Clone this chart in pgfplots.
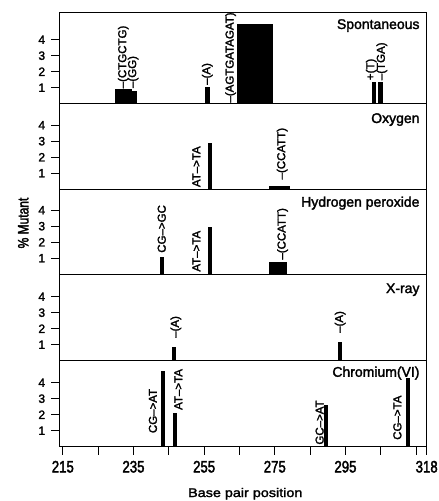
\documentclass[border=0pt]{standalone}
\usepackage{pgfplots}
\pgfplotsset{compat=1.18}
\usepackage{fontspec}
\setmainfont{Liberation Sans}[FakeBold=2]
\newfontfamily\reg{Liberation Sans}[FakeBold=2]
\newfontfamily\cond{Liberation Sans}[FakeStretch=0.8,FakeBold=2.2]
\newfontfamily\wide{Liberation Sans}[FakeStretch=1.15,FakeBold=2]

\pgfplotsset{
  panel/.style={
    scale only axis, width=367.4pt, xmin=214, xmax=318, ymin=0,
    clip=false,
    axis line style={line width=1pt},
    ytick={1,2,3,4},
    /pgf/number format/assume math mode=true,
    yticklabel style={font=\reg\fontsize{12}{12}\selectfont, inner sep=0pt, xshift=-6pt},
    tick style={line width=0.7pt, black},
    major tick length=8pt, tick align=outside,
    ytick pos=left,
    xtick=\empty,
  },
}
\tikzset{
  bar/.style={fill=black, draw=none},
  lab/.style={rotate=90, anchor=west, inner sep=0pt, font=\reg\fontsize{11.5}{11.5}\selectfont},
  ttl/.style={anchor=north east, inner sep=0pt, font=\reg\fontsize{14}{14}\selectfont},
}

\begin{document}
\begin{tikzpicture}
% ---------------- Spontaneous ----------------
\begin{axis}[panel, name=p1, height=91pt, ymax=5.6875, at={(0,0)}, anchor=north west]
\addplot[bar] coordinates {(229.8,0) (229.8,0.9) (234.7,0.9) (234.7,0)};
\addplot[bar] coordinates {(234.7,0) (234.7,0.8) (235.9,0.8) (235.9,0)};
\addplot[bar] coordinates {(255.2,0) (255.2,1.05) (256.7,1.05) (256.7,0)};
\addplot[bar] coordinates {(264.2,0) (264.2,4.97) (274.6,4.97) (274.6,0)};
\addplot[bar] coordinates {(302.4,0) (302.4,1.36) (303.7,1.36) (303.7,0)};
\addplot[bar] coordinates {(304.3,0) (304.3,1.36) (305.7,1.36) (305.7,0)};
\node[lab] at (axis cs:232.1,0.95) {\textendash(CTGCTG)};
\node[lab] at (axis cs:234.9,0.97) {\textendash(GG)};
\node[lab] at (axis cs:255.9,1.17) {\textendash(A)};
\node[lab] at (axis cs:262.5,0.06) {\textendash(AGTGATAGAT)};
\node[lab] at (axis cs:302.3,1.46) {+(T)};
\node[lab] at (axis cs:305.3,1.46) {\textendash(TGA)};
\node[ttl, xshift=-7pt, yshift=-6.3pt] at (rel axis cs:1,1) {Spontaneous};
\end{axis}
% ---------------- Oxygen ----------------
\begin{axis}[panel, name=p2, height=85.5pt, ymax=5.34375, at={(p1.south west)}, anchor=north west]
\addplot[bar] coordinates {(256.2,0) (256.2,2.9) (257.3,2.9) (257.3,0)};
\addplot[bar] coordinates {(273.5,0) (273.5,0.2) (279.3,0.2) (279.3,0)};
\node[lab] at (axis cs:252.8,0.12) {AT\textendash{}>TA};
\node[lab] at (axis cs:277.1,0.6) {\textendash(CCATT)};
\node[ttl, xshift=-7pt, yshift=-9.3pt] at (rel axis cs:1,1) {Oxygen};
\end{axis}
% ---------------- Hydrogen peroxide ----------------
\begin{axis}[panel, name=p3, height=85pt, ymax=5.3125, at={(p2.south west)}, anchor=north west]
\addplot[bar] coordinates {(242.5,0) (242.5,1.1) (243.6,1.1) (243.6,0)};
\addplot[bar] coordinates {(256.1,0) (256.1,2.95) (257.3,2.95) (257.3,0)};
\addplot[bar] coordinates {(273.5,0) (273.5,0.74) (278.4,0.74) (278.4,0)};
\node[lab] at (axis cs:243.0,1.33) {CG\textendash{}>GC};
\node[lab] at (axis cs:252.8,0.15) {AT\textendash{}>TA};
\node[lab] at (axis cs:277.2,0.9) {\textendash(CCATT)};
\node[ttl, xshift=-7pt, yshift=-7.2pt] at (rel axis cs:1,1) {Hydrogen peroxide};
\end{axis}
% ---------------- X-ray ----------------
\begin{axis}[panel, name=p4, height=86.5pt, ymax=5.40625, at={(p3.south west)}, anchor=north west]
\addplot[bar] coordinates {(246.0,0) (246.0,0.86) (247.1,0.86) (247.1,0)};
\addplot[bar] coordinates {(292.8,0) (292.8,1.14) (293.9,1.14) (293.9,0)};
\node[lab] at (axis cs:247.0,1.42) {\textendash(A)};
\node[lab] at (axis cs:293.5,1.73) {\textendash(A)};
\node[ttl, xshift=-7pt, yshift=-9pt] at (rel axis cs:1,1) {X-ray};
\end{axis}
% ---------------- Chromium(VI) ----------------
\begin{axis}[panel, name=p5, height=86pt, ymax=5.375, at={(p4.south west)}, anchor=north west,
  xtick={215,225,235,245,255,265,275,285,295,305,315,318},
  xticklabels={215,,235,,255,,275,,295,,,318},
  xtick pos=bottom,
  xticklabel style={font=\cond\fontsize{16.5}{17}\selectfont, inner sep=0pt, yshift=-6pt}]
\addplot[bar] coordinates {(242.8,0) (242.8,4.73) (243.9,4.73) (243.9,0)};
\addplot[bar] coordinates {(246.1,0) (246.1,2.09) (247.3,2.09) (247.3,0)};
\addplot[bar] coordinates {(289.0,0) (289.0,2.6) (290.0,2.6) (290.0,0)};
\addplot[bar] coordinates {(312.1,0) (312.1,4.28) (313.3,4.28) (313.3,0)};
\node[lab] at (axis cs:240.5,0.84) {CG\textendash{}>AT};
\node[lab] at (axis cs:247.7,2.29) {AT\textendash{}>TA};
\node[lab] at (axis cs:287.7,0.12) {GC\textendash{}>AT};
\node[lab] at (axis cs:309.7,0.42) {CG\textendash{}>TA};
\node[ttl, xshift=-7pt, yshift=-5.7pt] at (rel axis cs:1,1) {Chromium(VI)};
\end{axis}
\node[rotate=90, font=\cond\fontsize{15}{15}\selectfont, inner sep=0pt] at ([xshift=-36pt,yshift=8.7pt]p3.west) {\% Mutant};
\node[anchor=base, inner sep=0pt, font=\wide\fontsize{12.5}{13}\selectfont] at ([xshift=2.3pt,yshift=-50.3pt]p5.south) {Base pair position};
\pgfresetboundingbox
\path ([xshift=-59.3pt,yshift=12.7pt]p1.north west) rectangle ([xshift=12.3pt,yshift=-54.3pt]p5.south east);
\end{tikzpicture}
\end{document}
